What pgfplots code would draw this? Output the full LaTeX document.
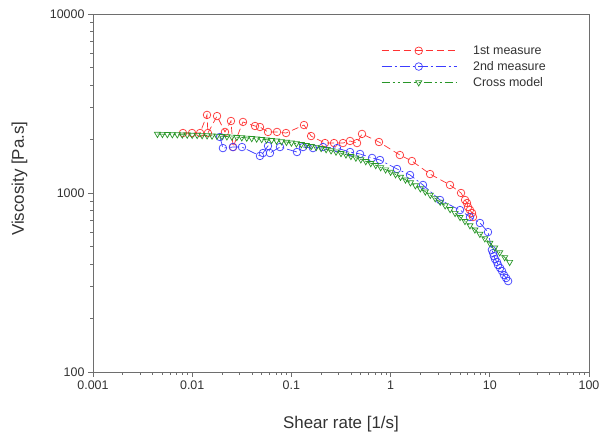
\documentclass[border=0pt]{standalone}
\usepackage{pgfplots}
\pgfplotsset{compat=1.18}
\usepackage{pgfplotstable}
\usepackage{fontspec}
\setmainfont{Liberation Sans}
\definecolor{cred}{RGB}{255,50,50}
\definecolor{cblue}{RGB}{60,60,255}
\definecolor{cgreen}{RGB}{40,150,40}
\definecolor{axcol}{RGB}{110,110,110}
\definecolor{txtcol}{RGB}{50,50,50}

\pgfplotstableread{
x y
0.00807 2163
0.00996 2163
0.0120 2163
0.0141 2730
0.0144 2163
0.0178 2690
0.0214 2193
0.0246 2525
0.0258 1806
0.0325 2494
0.0430 2367
0.0482 2337
0.0581 2193
0.0716 2193
0.0883 2163
0.134 2397
0.158 2080
0.218 1901
0.269 1901
0.331 1901
0.390 1953
0.459 1901
0.515 2138
0.764 1927
1.24 1630
1.64 1509
2.50 1276
3.97 1109
5.13 1000
5.63 914
5.89 879
6.03 835
6.31 804
6.62 773
6.77 734
}\first

\pgfplotstableread{
x y
0.01905 2055
0.0204 1782
0.02576 1806
0.03177 1806
0.0482 1611
0.0517 1672
0.0581 1832
0.0608 1672
0.0767 1806
0.1138 1694
0.131 1806
0.165 1782
0.2085 1806
0.288 1782
0.390 1694
0.492 1652
0.650 1570
0.782 1529
1.16 1362
1.57 1261
2.12 1109
3.15 914
5.01 803
6.31 734
7.96 680
9.59 605
10.5 481
10.8 462
11.0 444
11.3 427
11.8 412
12.1 396
12.7 381
13.3 366
13.9 348
14.6 335
15.3 322
}\second

\pgfplotstableread{
x y
0.004467 2134
0.005012 2132
0.005623 2129
0.006310 2125
0.007079 2122
0.007943 2118
0.008913 2114
0.01 2109
0.01122 2105
0.01259 2099
0.01413 2094
0.01585 2088
0.01778 2082
0.01995 2075
0.02239 2067
0.02512 2059
0.02818 2051
0.03162 2042
0.03548 2032
0.03981 2022
0.04467 2010
0.05012 1998
0.05623 1986
0.06310 1972
0.07079 1957
0.07943 1942
0.08913 1926
0.1 1908
0.1122 1889
0.1259 1870
0.1413 1849
0.1585 1827
0.1778 1804
0.1995 1779
0.2239 1754
0.2512 1727
0.2818 1699
0.3162 1669
0.3548 1638
0.3981 1606
0.4467 1573
0.5012 1539
0.5623 1503
0.6310 1466
0.7079 1429
0.7943 1390
0.8913 1351
1 1311
1.122 1270
1.259 1228
1.413 1186
1.585 1144
1.778 1102
1.995 1059
2.239 1017
2.512 975
2.818 933
3.162 892
3.548 851
3.981 811
4.467 772
5.012 733
5.623 696
6.310 659
7.079 624
7.943 590
8.913 557
10 525
11.22 495
12.59 465
14.13 437
15.85 411
}\cross

\begin{document}
\begin{tikzpicture}
\begin{axis}[
  name=ax,
  scale only axis,
  width=496bp, height=358bp,
  xmode=log, ymode=log,
  xmin=0.001, xmax=100, ymin=100, ymax=10000,
  xtick={0.001,0.01,0.1,1,10,100},
  xticklabels={0.001,0.01,0.1,1,10,100},
  ytick={100,1000,10000},
  yticklabels={100,1000,10000},
  minor tick num=0,
  minor xtick={}, minor ytick={},
  tick align=outside,
  xtick pos=bottom, ytick pos=left,
  major tick length=5bp,
  axis line style={axcol, line width=0.8bp},
  every tick/.style={axcol, line width=0.8bp},
  tick label style={font=\fontsize{12.5}{14}\selectfont, text=txtcol},
  every axis x label/.style={at={(axis description cs:0.5,-0.145)}, anchor=center},
  every axis y label/.style={at={(axis description cs:-0.148,0.54)}, anchor=center, rotate=90},
  label style={font=\fontsize{17}{20}\selectfont, text=txtcol},
  xlabel={Shear rate [1/s]},
  ylabel={Viscosity [Pa.s]},
  legend cell align=left,
  legend style={draw=none, fill=none, at={(rel axis cs:0.575,0.923)}, anchor=north west,
    font=\fontsize{12.5}{14}\selectfont, text=txtcol, row sep=1.5bp,
    /tikz/every even column/.append style={column sep=4bp}},
  legend image code/.code={\draw[mark repeat=2,mark phase=2] plot coordinates {(0bp,0bp) (37bp,0bp) (75bp,0bp)};
    \path (89bp,0bp);},
]
\addplot[cred, line width=0.7bp, dash pattern=on 7bp off 4bp, mark=o, mark size=3.8bp,
  mark options={solid, line width=0.7bp, fill=none}] table {\first};
\addlegendentry{1st measure}
\addplot[cblue, line width=0.7bp, dash pattern=on 10bp off 3bp on 2bp off 3bp, mark=o, mark size=3.8bp,
  mark options={solid, line width=0.7bp, fill=none}] table {\second};
\addlegendentry{2nd measure}
\addplot[cgreen, line width=0.7bp, dash pattern=on 8bp off 3bp on 2bp off 3bp on 2bp off 3bp, mark=triangle, mark size=3.5bp,
  mark options={solid, rotate=180, line width=0.7bp, fill=none}] table {\cross};
\addlegendentry{Cross model}
\end{axis}
\coordinate (A) at ([xshift=-93bp,yshift=-65bp]ax.south west);
\coordinate (B) at ([xshift=11bp,yshift=14bp]ax.north east);
\pgfresetboundingbox
\useasboundingbox (A) rectangle (B);
\end{tikzpicture}
\end{document}
